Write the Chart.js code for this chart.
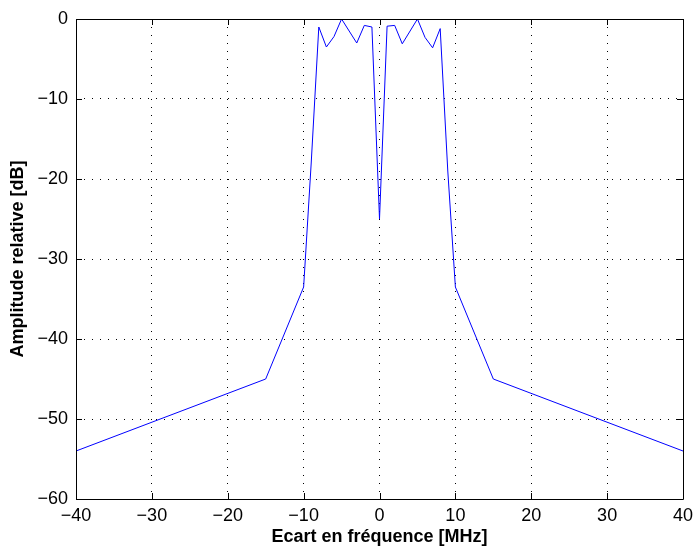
<!DOCTYPE html>
<html>
<head>
<meta charset="utf-8">
<script src="https://cdn.jsdelivr.net/npm/chart.js@4/dist/chart.umd.min.js"></script>
<style>
  html, body { margin: 0; padding: 0; background: #fff; }
  #wrap { width: 694px; height: 548px; }
</style>
</head>
<body>
<div id="wrap"><canvas id="c" width="694" height="548"></canvas></div>
<script>
// Data
const frequencies = [-40, -15, -10, -9, -8, -7, -6, -5, -3, -2, -1, 0, 1, 2, 3, 5, 6, 7, 8, 9, 10, 15, 40];
const amplitudes  = [-54, -45, -33.5, -18, -1, -3.5, -2.2, 0, -3.0, -0.8, -1.0, -25, -0.9, -0.8, -3.1, 0, -2.3, -3.6, -1.2, -19, -33.5, -45, -54];
const xTicks = [-40, -30, -20, -10, 0, 10, 20, 30, 40];
const yTicks = [-60, -50, -40, -30, -20, -10, 0];
const xTitle = 'Ecart en fréquence [MHz]';
const yTitle = 'Amplitude relative [dB]';

const points = frequencies.map((f, i) => ({ x: f, y: amplitudes[i] }));
const fmt = v => String(v).replace('-', '\u2212');
const FONT = "'Liberation Sans', Arial, Helvetica, sans-serif";

const frameTicks = {
  id: 'frameTicks',
  afterDraw(chart) {
    const { ctx, chartArea: a, scales: { x, y } } = chart;
    ctx.save();
    ctx.strokeStyle = '#000';
    ctx.lineWidth = 1;
    ctx.beginPath();
    const L = 6;
    xTicks.forEach(v => {
      const px = Math.round(x.getPixelForValue(v)) + 0.5;
      ctx.moveTo(px, a.bottom); ctx.lineTo(px, a.bottom - L);
      ctx.moveTo(px, a.top); ctx.lineTo(px, a.top + L);
    });
    yTicks.forEach(v => {
      const py = Math.round(y.getPixelForValue(v)) + 0.5;
      ctx.moveTo(a.left, py); ctx.lineTo(a.left + L, py);
      ctx.moveTo(a.right, py); ctx.lineTo(a.right - L, py);
    });
    ctx.stroke();
    ctx.beginPath();
    ctx.rect(Math.round(a.left) + 0.5, Math.round(a.top) + 0.5,
             Math.round(a.right - a.left), Math.round(a.bottom - a.top));
    ctx.stroke();
    ctx.restore();
  }
};

new Chart(document.getElementById('c'), {
  type: 'scatter',
  data: {
    datasets: [{
      data: points,
      showLine: true,
      borderColor: '#0000ff',
      backgroundColor: '#0000ff',
      borderWidth: 1,
      pointRadius: 0,
      tension: 0,
      fill: false
    }]
  },
  options: {
    responsive: false,
    animation: false,
    devicePixelRatio: 1,
    layout: { padding: { top: 19, right: 11, left: 0, bottom: 0 } },
    plugins: { legend: { display: false }, tooltip: { enabled: false } },
    scales: {
      x: {
        type: 'linear',
        min: -40, max: 40,
        afterBuildTicks: s => { s.ticks = xTicks.map(v => ({ value: v })); },
        afterFit: s => { s.height = 49; s.paddingLeft = 0; s.paddingRight = 0; },
        grid: { color: '#000', lineWidth: 1, drawTicks: false },
        border: { display: false, dash: [1, 7] },
        ticks: {
          color: '#000', padding: 6,
          font: { family: FONT, size: 18 },
          callback: v => fmt(v), maxRotation: 0, autoSkip: false
        },
        title: {
          display: true, text: xTitle, color: '#000',
          font: { family: FONT, size: 18, weight: 'bold' },
          padding: { top: 0, bottom: 0 }
        }
      },
      y: {
        type: 'linear',
        min: -60, max: 0,
        afterBuildTicks: s => { s.ticks = yTicks.map(v => ({ value: v })); },
        afterFit: s => { s.width = 76; s.paddingTop = 0; s.paddingBottom = 0; },
        grid: { color: '#000', lineWidth: 1, drawTicks: false },
        border: { display: false, dash: [1, 7] },
        ticks: {
          color: '#000', padding: 8,
          font: { family: FONT, size: 18 },
          callback: v => fmt(v), autoSkip: false
        },
        title: {
          display: true, text: yTitle, color: '#000',
          font: { family: FONT, size: 18, weight: 'bold' },
          padding: { top: 7.2, bottom: 7.2 }
        }
      }
    }
  },
  plugins: [frameTicks]
});
</script>
</body>
</html>
